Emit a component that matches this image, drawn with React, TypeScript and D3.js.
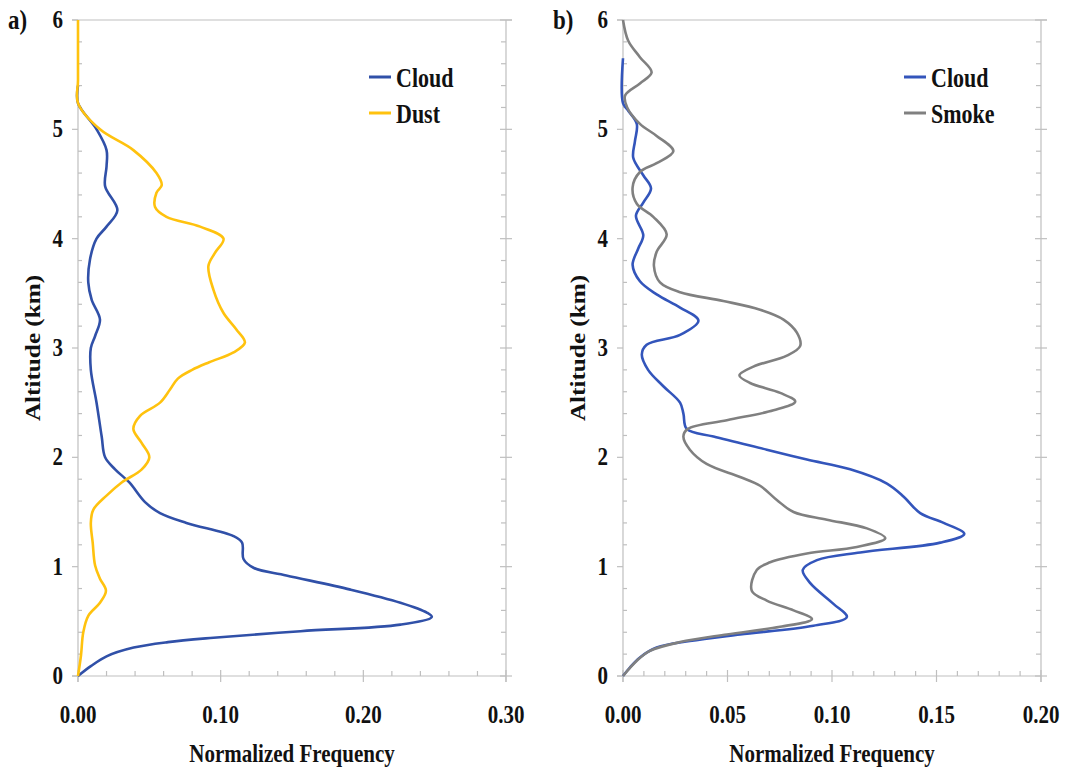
import { useEffect, useRef } from "react";
import * as d3 from "d3";

// panel a) cloud vs dust, panel b) cloud vs smoke
const altACloud = [0, 0.09, 0.18, 0.26, 0.31, 0.35, 0.41, 0.47, 0.54, 0.58, 0.67, 0.79, 0.92, 0.99, 1.07, 1.22, 1.28, 1.4, 1.49, 1.59, 1.77, 1.89, 2.0, 2.19, 2.5, 2.8, 3.0, 3.11, 3.26, 3.44, 3.6, 3.81, 4.0, 4.11, 4.26, 4.48, 4.66, 4.81, 5.0, 5.24, 5.4];
const freqACloud = [0, 0.009, 0.02, 0.039, 0.063, 0.095, 0.156, 0.226, 0.248, 0.2445, 0.226, 0.191, 0.146, 0.123, 0.116, 0.115, 0.109, 0.076, 0.0575, 0.047, 0.036, 0.026, 0.019, 0.0166, 0.013, 0.009, 0.009, 0.012, 0.0154, 0.0096, 0.0072, 0.0084, 0.013, 0.02, 0.0276, 0.019, 0.02, 0.02, 0.013, 0, 0];

const altADust = [0, 0.19, 0.4, 0.55, 0.67, 0.78, 0.89, 1.01, 1.22, 1.4, 1.52, 1.65, 1.77, 1.89, 2.0, 2.13, 2.26, 2.38, 2.5, 2.62, 2.72, 2.8, 2.87, 2.96, 3.05, 3.17, 3.32, 3.53, 3.75, 3.87, 4.0, 4.11, 4.2, 4.29, 4.42, 4.49, 4.6, 4.81, 5.0, 5.24, 5.45, 6.0];
const freqADust = [0, 0.0021, 0.0037, 0.0072, 0.0154, 0.0196, 0.0154, 0.012, 0.0103, 0.009, 0.0107, 0.02, 0.0306, 0.0447, 0.05, 0.0447, 0.0388, 0.0435, 0.0575, 0.0645, 0.07, 0.08, 0.092, 0.109, 0.117, 0.111, 0.102, 0.095, 0.0914, 0.096, 0.102, 0.0856, 0.062, 0.054, 0.055, 0.0587, 0.055, 0.0388, 0.0154, 0, 0, 0];

const altBCloud = [0, 0.08, 0.17, 0.26, 0.32, 0.38, 0.46, 0.54, 0.66, 0.85, 0.97, 1.06, 1.13, 1.22, 1.3, 1.4, 1.49, 1.64, 1.76, 1.89, 1.98, 2.07, 2.19, 2.26, 2.4, 2.5, 2.65, 2.8, 2.94, 3.03, 3.12, 3.25, 3.37, 3.49, 3.61, 3.76, 3.91, 4.03, 4.21, 4.33, 4.46, 4.58, 4.74, 4.89, 5.05, 5.17, 5.24, 5.65];
const freqBCloud = [0, 0.0034, 0.0081, 0.0161, 0.032, 0.056, 0.0911, 0.1071, 0.1007, 0.0896, 0.086, 0.0928, 0.1135, 0.1518, 0.1633, 0.1534, 0.1422, 0.1343, 0.1263, 0.1087, 0.088, 0.0688, 0.0433, 0.0305, 0.0289, 0.0273, 0.0193, 0.012, 0.009, 0.0113, 0.0273, 0.0361, 0.0273, 0.0161, 0.0081, 0.0046, 0.0073, 0.0097, 0.0062, 0.0097, 0.0134, 0.0097, 0.0049, 0.0057, 0.0066, 0.0025, 0, 0];

const altBSmoke = [0, 0.14, 0.23, 0.31, 0.38, 0.45, 0.52, 0.6, 0.69, 0.78, 0.97, 1.04, 1.12, 1.18, 1.26, 1.35, 1.43, 1.5, 1.61, 1.74, 1.82, 1.94, 2.07, 2.19, 2.26, 2.34, 2.43, 2.51, 2.59, 2.68, 2.75, 2.83, 2.93, 3.02, 3.14, 3.26, 3.35, 3.43, 3.51, 3.6, 3.75, 3.88, 4.04, 4.2, 4.32, 4.47, 4.61, 4.69, 4.8, 4.94, 5.05, 5.2, 5.31, 5.42, 5.52, 5.66, 5.81, 6.0];
const freqBSmoke = [0, 0.0066, 0.0129, 0.0273, 0.0497, 0.0752, 0.0904, 0.0816, 0.0688, 0.0616, 0.064, 0.0704, 0.088, 0.1119, 0.1255, 0.1167, 0.0976, 0.0816, 0.0736, 0.0656, 0.056, 0.04, 0.032, 0.0289, 0.031, 0.0497, 0.072, 0.0824, 0.0752, 0.0608, 0.0557, 0.0624, 0.0784, 0.0848, 0.0832, 0.0768, 0.0656, 0.048, 0.0273, 0.0177, 0.0148, 0.0161, 0.0209, 0.0145, 0.0066, 0.0046, 0.0081, 0.0161, 0.0241, 0.0161, 0.0081, 0.002, 0.001, 0.0081, 0.0137, 0.0081, 0.0025, 0];

const xTicksA = [0, 0.1, 0.2, 0.3];
const xTicksB = [0, 0.05, 0.1, 0.15, 0.2];
const yTicks = [0, 1, 2, 3, 4, 5, 6];

const FONT = "'Liberation Serif', 'Times New Roman', serif";
const AXIS_COLOR = "#bfbfbf";
const STRETCH = 1.2;

type Series = { label: string; color: string; alt: number[]; freq: number[] };

const panels = [
  {
    tag: "a)",
    left: 78,
    right: 506,
    xMax: 0.3,
    xTicks: xTicksA,
    minorStep: 0.02,
    series: [
      { label: "Cloud", color: "#3050a8", alt: altACloud, freq: freqACloud },
      { label: "Dust", color: "#ffc20e", alt: altADust, freq: freqADust },
    ] as Series[],
  },
  {
    tag: "b)",
    left: 623,
    right: 1041,
    xMax: 0.2,
    xTicks: xTicksB,
    minorStep: 0.01,
    series: [
      { label: "Cloud", color: "#3355bb", alt: altBCloud, freq: freqBCloud },
      { label: "Smoke", color: "#808080", alt: altBSmoke, freq: freqBSmoke },
    ] as Series[],
  },
];

function App() {
  const svgRef = useRef<SVGSVGElement>(null);

  useEffect(() => {
    const svg = d3.select(svgRef.current);
    svg.selectAll("*").remove();

    const top = 20;
    const bottom = 676;

    const text = (
      g: any,
      x: number,
      y: number,
      s: string,
      size: number,
      anchor = "middle",
      rotate = false
    ) =>
      g
        .append("text")
        .attr(
          "transform",
          rotate
            ? `translate(${x},${y}) rotate(-90) scale(${STRETCH},1)`
            : `translate(${x},${y}) scale(1,${STRETCH})`
        )
        .attr("text-anchor", anchor)
        .attr("font-family", FONT)
        .attr("font-weight", "bold")
        .attr("font-size", size)
        .attr("fill", "#111")
        .text(s);

    panels.forEach((p) => {
      const x = d3.scaleLinear().domain([0, p.xMax]).range([p.left, p.right]);
      const y = d3.scaleLinear().domain([0, 6]).range([bottom, top]);
      const g = svg.append("g");

      const line = (x1: number, y1: number, x2: number, y2: number) =>
        g
          .append("line")
          .attr("x1", x1)
          .attr("y1", y1)
          .attr("x2", x2)
          .attr("y2", y2)
          .attr("stroke", AXIS_COLOR)
          .attr("stroke-width", 1.2);

      // frame
      line(p.left - 6, top, p.right + 6, top);
      line(p.left - 6, bottom, p.right, bottom);
      line(p.left, top, p.left, bottom + 6);
      line(p.right, top, p.right, bottom + 6);

      // y ticks
      d3.range(0, 6.001, 0.2).forEach((v) => {
        const isMajor = Math.abs(v - Math.round(v)) < 1e-6;
        const yy = y(v);
        if (isMajor) {
          line(p.left - 6, yy, p.left, yy);
          line(p.right - 6, yy, p.right + 6, yy);
        } else {
          line(p.left, yy, p.left + 4, yy);
          line(p.right - 5, yy, p.right, yy);
        }
      });
      yTicks.forEach((v) => text(g, p.left - 15, y(v) + 8, String(v), 21, "end"));

      // x ticks
      d3.range(0, p.xMax + 1e-9, p.minorStep).forEach((v) => {
        const isMajor = p.xTicks.some((t) => Math.abs(t - v) < 1e-9);
        const xx = x(v);
        if (isMajor) line(xx, bottom - 6, xx, bottom + 6);
        else line(xx, bottom - 5, xx, bottom);
      });
      p.xTicks.forEach((v) => text(g, x(v), 723, d3.format(".2f")(v), 21));

      // series lines
      p.series.forEach((s) => {
        const pts = s.alt.map((a, i) => [s.freq[i], a] as [number, number]);
        const gen = d3
          .line<[number, number]>()
          .x((d) => x(d[0]))
          .y((d) => y(d[1]))
          .curve(d3.curveCatmullRom.alpha(0.5));
        g.append("path")
          .datum(pts)
          .attr("fill", "none")
          .attr("stroke", s.color)
          .attr("stroke-width", 2.6)
          .attr("stroke-linejoin", "round")
          .attr("d", gen);
      });

      // legend
      const lx = p.right - 137;
      p.series.forEach((s, i) => {
        const ly = 77 + i * 36;
        g.append("line")
          .attr("x1", lx)
          .attr("x2", lx + 22)
          .attr("y1", ly)
          .attr("y2", ly)
          .attr("stroke", s.color)
          .attr("stroke-width", 3);
        text(g, lx + 27, ly + 10, s.label, 22, "start");
      });

      // titles
      const mid = (p.left + p.right) / 2;
      text(g, mid, 762, "Normalized Frequency", 21);
      text(g, p.left - 38, 348, "Altitude (km)", 21, "middle", true);
      text(g, p.left - 70, 29, p.tag, 23, "start");
    });
  }, []);

  return (
    <div style={{ position: "absolute", left: 0, top: 0 }}>
      <svg ref={svgRef} width={1074} height={772} style={{ display: "block", background: "#fff" }} />
    </div>
  );
}

export default App;
